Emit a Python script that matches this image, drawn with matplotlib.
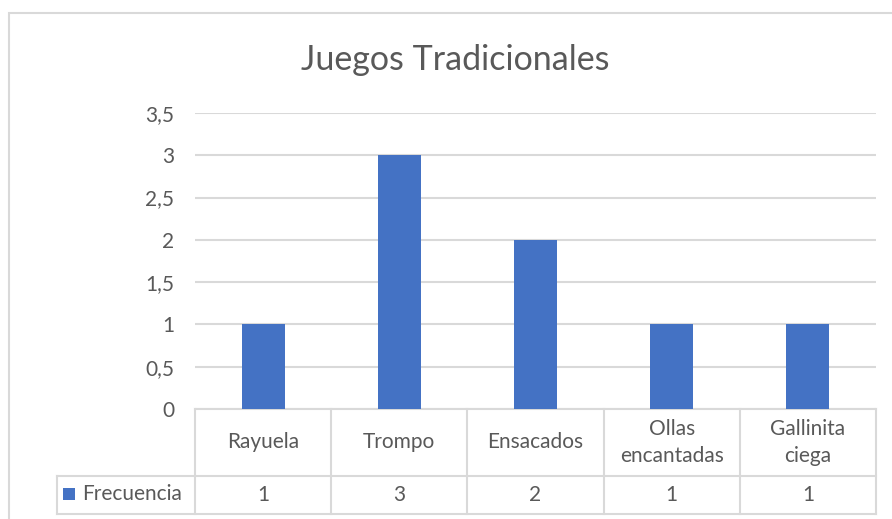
import matplotlib.pyplot as plt
from matplotlib.patches import Rectangle

# datos del grafico
categorias = ["Rayuela", "Trompo", "Ensacados", "Ollas\nencantadas", "Gallinita\nciega"]
frecuencia = [1, 3, 2, 1, 1]
serie = "Frecuencia"
titulo = "Juegos Tradicionales"
yticks = [0, 0.5, 1, 1.5, 2, 2.5, 3, 3.5]

plt.rcParams['font.family'] = ['Lato', 'DejaVu Sans']
azul = "#4472c4"
gris = "#d9d9d9"
texto = "#595959"
fs = 15

W, H = 892, 519
fig = plt.figure(figsize=(W / 100, H / 100), dpi=100)

# borde del area del grafico
fig.patches.append(Rectangle((9 / W, -0.1), 1.2, 1 - 13 / H + 0.1, transform=fig.transFigure,
                             fill=False, edgecolor=gris, linewidth=1.5))

x0, x1 = 195 / W, 876 / W
y0, y1 = 1 - 409 / H, 1 - 113 / H
ax = fig.add_axes([x0, y0, x1 - x0, y1 - y0])

pos = list(range(len(categorias)))
ax.bar(pos, frecuencia, width=0.315, color=azul, zorder=3)
ax.set_xlim(-0.5, len(categorias) - 0.5)
ax.set_ylim(0, 3.5)
ax.set_yticks(yticks)
ax.set_yticklabels([("%g" % v).replace(".", ",") for v in yticks], fontsize=fs, color=texto)
ax.set_xticks([])
ax.tick_params(axis="y", length=0, pad=15)
for s in ax.spines.values():
    s.set_visible(False)
ax.grid(axis="y", color=gris, linewidth=1.5, zorder=0)

fig.text(455 / W, 1 - 60 / H, titulo, ha="center", va="center", fontsize=24.5, color=texto)

# tabla de datos
ph = 409 - 113
r1 = -(476 - 409) / ph
r2 = -(514 - 409) / ph
colw = (876 - 195) / len(categorias)
xl = -0.5 - (195 - 57) / colw
lk = dict(color=gris, linewidth=1.5, clip_on=False, transform=ax.get_xaxis_transform())
ax.plot([-0.5, len(categorias) - 0.5], [0, 0], **lk)
ax.plot([xl, len(categorias) - 0.5], [r1, r1], **lk)
ax.plot([xl, len(categorias) - 0.5], [r2, r2], **lk)
ax.plot([xl, xl], [r1, r2], **lk)
for i in range(len(categorias) + 1):
    ax.plot([i - 0.5, i - 0.5], [0, r2], **lk)

tr = ax.get_xaxis_transform()
for i, (c, v) in enumerate(zip(categorias, frecuencia)):
    ax.text(i, r1 / 2, c, ha="center", va="center", fontsize=fs, color=texto,
            transform=tr, linespacing=1.4)
    ax.text(i, (r1 + r2) / 2, str(v), ha="center", va="center", fontsize=fs, color=texto,
            transform=tr)

fig.patches.append(Rectangle((63 / W, 1 - 500 / H), 12 / W, 12 / H, transform=fig.transFigure,
                             facecolor=azul, edgecolor="none"))
fig.text(82 / W, 1 - 494 / H, serie, ha="left", va="center", fontsize=fs, color=texto)

fig.savefig("out.png", dpi=100)
